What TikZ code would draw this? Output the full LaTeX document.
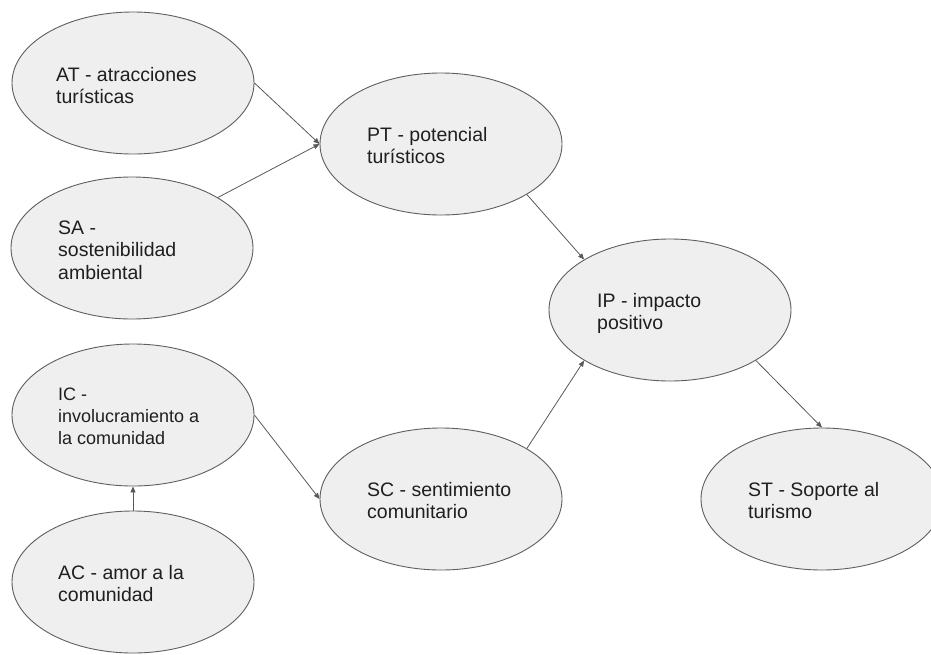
\documentclass[tikz,border=0pt]{standalone}
\usepackage{fontspec}
\setmainfont{Liberation Sans}
\usetikzlibrary{shapes.geometric,arrows.meta}
\definecolor{fillgray}{HTML}{EFEFEF}
\definecolor{edgegray}{HTML}{5F5F5F}
\definecolor{arrowgray}{HTML}{595959}
\definecolor{txt}{HTML}{1F1F1F}
\tikzset{
  bubble/.style={ellipse, draw=edgegray, fill=fillgray, line width=0.9pt,
    minimum width=242pt, minimum height=142pt, inner sep=0pt},
  label text/.style={anchor=base west, inner sep=0pt, text=txt,
    font=\fontsize{19.5}{22.7}\selectfont},
  small text/.style={anchor=base west, inner sep=0pt, text=txt,
    font=\fontsize{18}{22}\selectfont},
  conn/.style={draw=arrowgray, line width=0.8pt,
    -{Triangle[length=6pt,width=5pt]}}
}
\begin{document}
\begin{tikzpicture}[x=1pt,y=-1pt]
\clip (0,0) rectangle (931,654);
\fill[white] (0,0) rectangle (931,654);
% ellipses
\node[bubble] (AT) at (133,83) {};
\node[bubble] (SA) at (132,248) {};
\node[bubble] (IC) at (133,415) {};
\node[bubble] (AC) at (133,582) {};
\node[bubble] (PT) at (441,144) {};
\node[bubble] (SC) at (441,499) {};
\node[bubble] (IP) at (670,310) {};
\node[bubble] (ST) at (822,499) {};
% texts
\node[label text] (tAT) at (56,81) {\begin{tabular}[t]{@{}l@{}}AT - atracciones\\ turísticas\end{tabular}};
\node[label text] (tSA) at (58,234) {\begin{tabular}[t]{@{}l@{}}SA -\\ sostenibilidad\\ ambiental\end{tabular}};
\node[small text] (tIC) at (58,400) {\begin{tabular}[t]{@{}l@{}}IC -\\ involucramiento a\\ la comunidad\end{tabular}};
\node[label text] (tAC) at (58,579) {\begin{tabular}[t]{@{}l@{}}AC - amor a la\\ comunidad\end{tabular}};
\node[label text] (tPT) at (367,141) {\begin{tabular}[t]{@{}l@{}}PT - potencial\\ turísticos\end{tabular}};
\node[label text] (tSC) at (367,496) {\begin{tabular}[t]{@{}l@{}}SC - sentimiento\\ comunitario\end{tabular}};
\node[label text] (tIP) at (597,307) {\begin{tabular}[t]{@{}l@{}}IP - impacto\\ positivo\end{tabular}};
\node[label text] (tST) at (748,496) {\begin{tabular}[t]{@{}l@{}}ST - Soporte al\\ turismo\end{tabular}};
% connectors
\draw[conn] (AT.east) -- (PT.west);
\draw[conn] (SA.north east) -- (PT.west);
\draw[conn] (PT.south east) -- (IP.north west);
\draw[conn] (SC.north east) -- (IP.south west);
\draw[conn] (IP.south east) -- (ST.north);
\draw[conn] (IC.east) -- (SC.west);
\draw[conn] (AC.north) -- (IC.south);
\end{tikzpicture}
\end{document}
